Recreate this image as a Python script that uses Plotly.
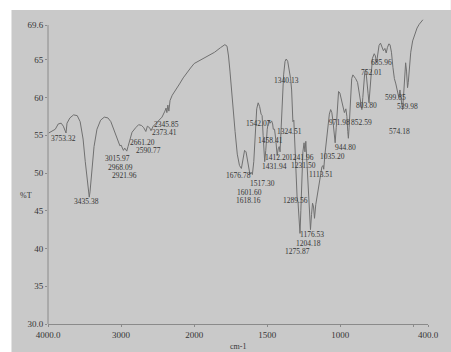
import numpy as np
import plotly.graph_objects as go

# ---- IR spectrum (wavenumber in cm-1, transmittance in %T) ----
wavenumber = [
    3990, 3950, 3900, 3860, 3820, 3790, 3770, 3753.32, 3740, 3700, 3650, 3600,
    3560, 3520, 3490, 3460, 3445, 3435.38, 3425, 3400, 3370, 3330, 3280, 3230,
    3180, 3140, 3100, 3060, 3030, 3015.97, 3000, 2985, 2968.09, 2950, 2935,
    2921.96, 2905, 2880, 2850, 2800, 2760, 2720, 2690, 2661.20, 2640, 2610,
    2590.77, 2560, 2520, 2480, 2440, 2400, 2385, 2373.41, 2360, 2345.85, 2330,
    2300, 2250, 2200, 2150, 2100, 2050, 2000, 1950, 1900, 1860, 1820, 1790,
    1775, 1765, 1755, 1745, 1735, 1720, 1705, 1690, 1676.78, 1665, 1655, 1645,
    1635, 1625, 1618.16, 1610, 1601.60, 1592, 1582, 1572, 1562, 1552, 1542.07,
    1535, 1528, 1521, 1517.30, 1510, 1500, 1490, 1480, 1470, 1463, 1458.41,
    1450, 1442, 1436, 1431.94, 1425, 1418, 1412.20, 1405, 1397, 1388, 1378,
    1370, 1360, 1350, 1340.13, 1333, 1328, 1324.51, 1318, 1310, 1302, 1295,
    1289.56, 1282, 1275.87, 1270, 1263, 1256, 1248, 1241.96, 1236, 1231.50,
    1225, 1218, 1211, 1204.18, 1197, 1190, 1183, 1176.53, 1168, 1158, 1148,
    1138, 1126, 1118, 1113.51, 1105, 1095, 1085, 1075, 1066, 1058, 1050, 1042,
    1035.20, 1028, 1020, 1012, 1003, 993, 982, 971.98, 962, 955, 949, 944.80,
    940, 932, 922, 914, 905, 895, 882, 870, 860, 852.59, 846, 840, 832, 825,
    818, 810, 803.80, 797, 790, 780, 768, 760, 752.01, 745, 735, 725, 715, 705,
    695, 685.96, 678, 668, 660, 650, 640, 630, 620, 610, 599.85, 592, 585, 579,
    574.18, 568, 560, 553, 547, 542, 539.98, 535, 528, 518, 505, 490, 475, 460,
    445, 435,
]
transmittance = [
    55.3, 55.5, 55.8, 56.5, 56.6, 56.2, 55.8, 55.3, 56.6, 57.3, 57.7, 57.6,
    56.8, 54.5, 51.5, 48.5, 47.3, 46.8, 47.5, 50.5, 53.5, 55.8, 57.0, 57.4,
    57.3, 56.8, 55.8, 54.6, 54.0, 53.6, 53.7, 53.4, 53.0, 53.3, 53.1,
    52.9, 53.5, 54.5, 55.4, 56.0, 56.4, 56.3, 56.0, 55.5, 56.2, 56.0,
    55.6, 56.2, 56.6, 57.0, 57.4, 58.2, 58.6, 58.0, 59.0, 58.2, 59.6,
    60.3, 61.0, 61.8, 62.6, 63.3, 63.9, 64.5, 65.0, 65.5, 66.0, 66.6, 67.0,
    66.8, 65.5, 63.5, 61.0, 58.5, 55.5, 52.5, 51.0, 50.6, 51.8, 53.0, 52.8,
    51.5, 50.2, 49.8, 50.1, 49.8, 51.5, 55.5, 58.5, 59.3, 58.8, 57.8,
    57.6, 55.0, 52.0, 51.5, 53.0, 55.8, 57.0, 56.6, 56.9, 56.5, 55.8,
    55.8, 54.5, 52.8, 52.3, 53.2, 53.5, 52.8, 55.5, 59.5, 63.0, 64.8,
    65.1, 64.8, 63.8, 62.5, 61.0, 58.5, 56.8, 57.0, 53.0, 48.0, 46.5,
    46.2, 44.5, 42.0, 45.0, 50.0, 52.8, 54.0, 52.8, 54.2, 52.5,
    51.0, 48.0, 44.5, 42.5, 44.5, 46.0, 45.5, 44.0, 45.8, 47.0, 48.0,
    49.3, 50.8, 51.0, 50.5, 52.5, 54.5, 56.2, 57.8, 58.4, 58.0, 56.8, 55.0,
    54.0, 56.0, 59.0, 60.8, 60.6, 59.8, 59.0, 58.0, 58.5, 57.5, 55.5, 54.6,
    56.0, 60.0, 62.5, 63.0, 62.8, 62.5, 62.0, 60.5, 59.0, 58.4, 60.0, 62.0, 63.5, 63.6,
    62.5, 60.5, 59.3, 61.0, 63.5, 65.2, 65.8, 65.5, 64.6, 65.8, 66.9, 67.2, 66.8, 66.2,
    66.5, 65.9, 66.6, 67.1, 67.0, 66.0, 64.0, 62.5, 61.8, 61.0, 60.0, 61.0, 60.0, 58.8,
    58.4, 60.0, 63.0, 64.6, 63.5, 61.8, 61.3, 62.0, 64.0, 66.0, 67.5, 68.5, 69.2, 69.7,
    70.1, 70.3,
]

# Labelled band positions and where each label sits (wavenumber, %T)
band_labels = [
    "3753.32", "3435.38", "3015.97", "2968.09", "2921.96", "2661.20", "2590.77",
    "2345.85", "2373.41", "1676.78", "1517.30", "1601.60", "1618.16", "1542.07",
    "1458.41", "1412.20", "1431.94", "1340.13", "1324.51", "1241.96", "1231.50",
    "1289.56", "1176.53", "1204.18", "1275.87", "1113.51", "1035.20", "944.80",
    "971.98", "852.59", "803.80", "752.01", "685.96", "599.85", "539.98", "574.18",
]
label_place = [
    (3784, 54.56), (3473, 46.24), (3054, 51.92), (3014, 50.73), (2959, 49.67),
    (2703, 54.03), (2622, 52.97), (2378, 56.41), (2405, 55.35), (1696, 49.67),
    (1534, 48.62), (1618, 47.43), (1628, 46.37), (1561, 56.54), (1476, 54.29),
    (1432, 52.05), (1453, 50.86), (1365, 62.22), (1345, 55.48), (1264, 52.05),
    (1253, 50.99), (1304, 46.37), (1196, 41.88), (1216, 40.69), (1291, 39.64),
    (1132, 49.80), (1051, 52.18), (966, 53.37), (1004, 56.67), (855, 56.67),
    (824, 58.92), (784, 63.27), (716, 64.59), (622, 59.97), (541, 58.78),
    (595, 55.48),
]

x_tick_values = [4000, 3000, 2000, 1500, 1000, 500, 400]
x_tick_text = ["4000.0", "3000", "2000", "1500", "1000", "", "400.0"]
y_tick_values = [30, 35, 40, 45, 50, 55, 60, 65, 69.6]
y_tick_text = ["30.0", "35", "40", "45", "50", "55", "60", "65", "69.6"]


def to_axis(wn):
    """Spectrometer abscissa: scale doubles below 2000 cm-1."""
    wn = np.asarray(wn, dtype=float)
    return np.where(wn >= 2000, 4000 - wn, 2000 + 2 * (2000 - wn))


FONT = "Liberation Serif"
BG = "#c9c9c9"
INK = "#353535"

fig = go.Figure()
fig.add_trace(go.Scatter(
    x=to_axis(wavenumber), y=transmittance, mode="lines",
    line=dict(color="#707070", width=1), hoverinfo="skip", showlegend=False,
))

for text, (wx, ty) in zip(band_labels, label_place):
    fig.add_annotation(
        x=float(to_axis(wx)), y=ty, text=text, showarrow=False,
        xanchor="center", yanchor="middle",
        font=dict(family=FONT, size=7.5, color=INK),
    )

# axis titles
fig.add_annotation(x=-0.08, y=0.42, xref="paper", yref="paper", text="%T",
                   showarrow=False, font=dict(family=FONT, size=8, color=INK))
fig.add_annotation(x=0.5, y=-0.075, xref="paper", yref="paper", text="cm-1",
                   showarrow=False, yanchor="middle",
                   font=dict(family=FONT, size=8, color=INK))

# left axis line (ends at the top tick) and white edge strips of the sheet
fig.add_shape(type="line", xref="paper", yref="y", x0=0, x1=0, y0=30, y1=69.6,
              line=dict(color="#8a8a8a", width=1))
fig.add_shape(type="rect", xref="paper", yref="paper", x0=-0.13, x1=-0.0961,
              y0=-0.1, y1=1.07, fillcolor="white", line_width=0, layer="below")
fig.add_shape(type="rect", xref="paper", yref="paper", x0=-0.13, x1=1.06,
              y0=1.0294, y1=1.07, fillcolor="white", line_width=0, layer="below")

fig.update_layout(
    width=451, height=352,
    margin=dict(l=48, r=18, t=19, b=27),
    paper_bgcolor=BG, plot_bgcolor=BG,
    font=dict(family=FONT, color=INK),
    xaxis=dict(
        range=[0, 5200], tickvals=list(to_axis(x_tick_values)), ticktext=x_tick_text,
        showgrid=False, zeroline=False, showline=True, linecolor="#8a8a8a", linewidth=1,
        ticks="outside", ticklen=2, tickcolor="#8a8a8a",
        tickfont=dict(family=FONT, size=9, color=INK),
    ),
    yaxis=dict(
        range=[30, 70.4], tickvals=y_tick_values, ticktext=y_tick_text,
        showgrid=False, zeroline=False, showline=False,
        ticks="outside", ticklen=2, tickcolor="#8a8a8a",
        tickfont=dict(family=FONT, size=9, color=INK),
    ),
)

fig.write_html("out.html")
